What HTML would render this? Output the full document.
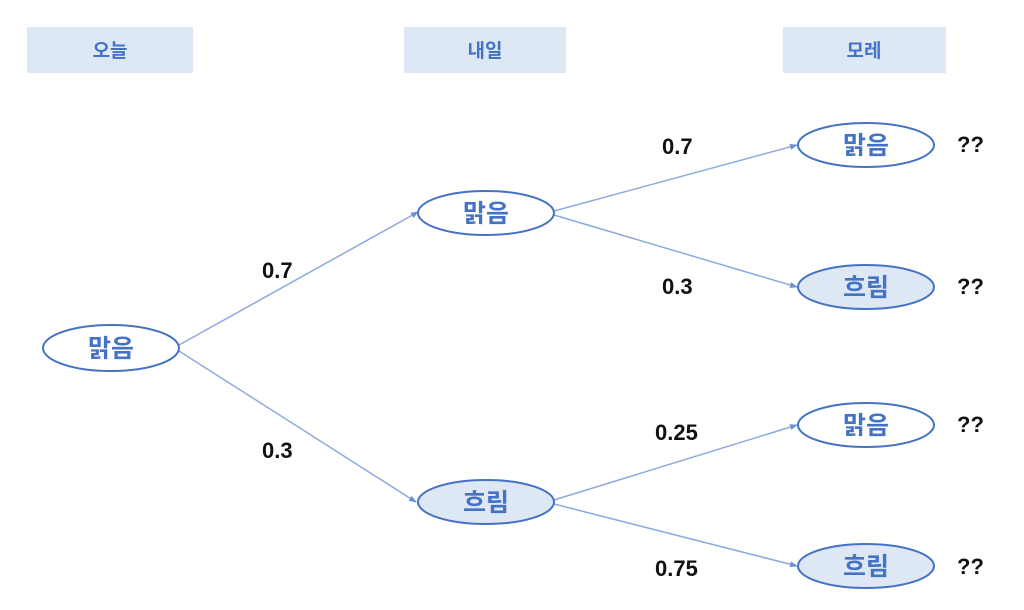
<!DOCTYPE html>
<html><head><meta charset="utf-8"><style>
html,body{margin:0;padding:0;background:#fff;width:1024px;height:610px;overflow:hidden}
svg text{font-family:"Liberation Sans","Noto Sans CJK KR",sans-serif}
</style></head><body>
<svg width="1024" height="610" viewBox="0 0 1024 610" xmlns="http://www.w3.org/2000/svg">
<defs><marker id="a" markerWidth="8" markerHeight="8" refX="7" refY="4" orient="auto" markerUnits="userSpaceOnUse"><path d="M0,1 L8,4 L0,7 z" fill="#6f8fd0"/></marker></defs>
<g fill="#dee8f4">
<rect x="27" y="27" width="166" height="46"/>
<rect x="404" y="27" width="162" height="46"/>
<rect x="783" y="27" width="163" height="46"/>
</g>
<g fill="#4472c4" font-size="19" font-weight="bold" text-anchor="middle">
<text x="110" y="57">오늘</text>
<text x="485" y="57">내일</text>
<text x="864" y="57">모레</text>
</g>
<g stroke="#8eaadc" stroke-width="1.5" fill="none" marker-end="url(#a)">
<line x1="179" y1="345" x2="418" y2="212"/>
<line x1="179" y1="351" x2="416" y2="502"/>
<line x1="554" y1="211" x2="797" y2="145"/>
<line x1="554" y1="215" x2="797" y2="287"/>
<line x1="554" y1="500" x2="797" y2="425"/>
<line x1="554" y1="504" x2="797" y2="566"/>
</g>
<g stroke="#4472c4" stroke-width="2">
<ellipse cx="111" cy="348" rx="68" ry="23" fill="#fff"/>
<ellipse cx="486" cy="213" rx="68" ry="22" fill="#fff"/>
<ellipse cx="486" cy="502" rx="68" ry="22" fill="#dee8f4"/>
<ellipse cx="866" cy="145" rx="68" ry="22" fill="#fff"/>
<ellipse cx="866" cy="287" rx="68" ry="22" fill="#dee8f4"/>
<ellipse cx="866" cy="425" rx="68" ry="22" fill="#fff"/>
<ellipse cx="866" cy="566" rx="68" ry="22" fill="#dee8f4"/>
</g>
<g fill="#4472c4" font-size="25" font-weight="bold" text-anchor="middle">
<text x="111" y="357">맑음</text>
<text x="486" y="222">맑음</text>
<text x="486" y="511">흐림</text>
<text x="866" y="154">맑음</text>
<text x="866" y="296">흐림</text>
<text x="866" y="434">맑음</text>
<text x="866" y="575">흐림</text>
</g>
<g fill="#111" font-size="22" font-weight="bold">
<text x="262" y="278">0.7</text>
<text x="262" y="458">0.3</text>
<text x="662" y="154">0.7</text>
<text x="662" y="294">0.3</text>
<text x="655" y="440">0.25</text>
<text x="655" y="576">0.75</text>
<text x="957" y="152">??</text>
<text x="957" y="294">??</text>
<text x="957" y="432">??</text>
<text x="957" y="574">??</text>
</g>
</svg>
</body></html>
